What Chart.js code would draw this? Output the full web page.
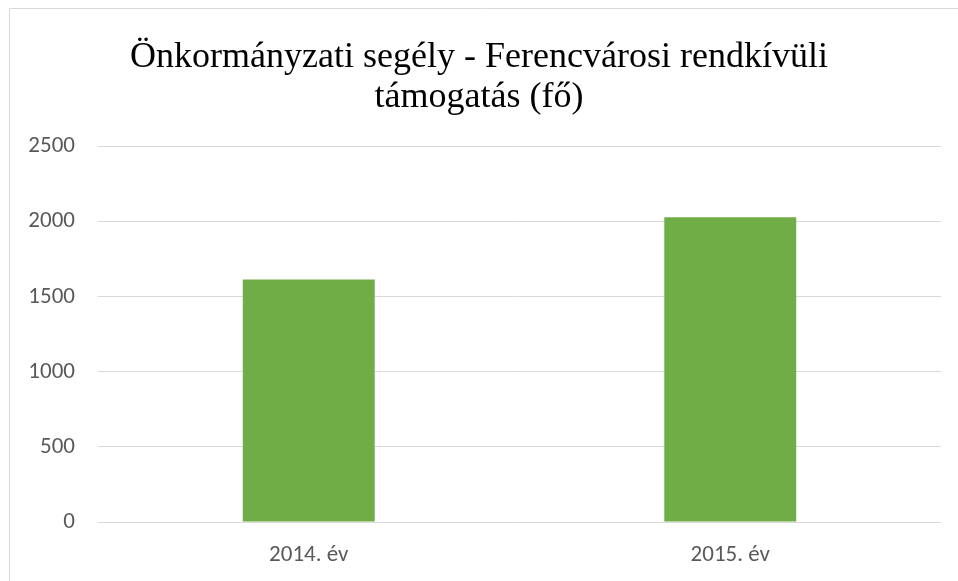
<!DOCTYPE html>
<html>
<head>
<meta charset="utf-8">
<script src="https://cdn.jsdelivr.net/npm/chart.js@4"></script>
<style>
  html, body { margin: 0; padding: 0; background: #fff; }
  #c { display: block; }
</style>
</head>
<body>
<canvas id="c" width="958" height="581"></canvas>
<script>
const categories = ["2014. év", "2015. év"];
const values = [1615, 2030];
const titleLines = ["Önkormányzati segély - Ferencvárosi rendkívüli", "támogatás (fő)"];
const yMin = 0, yMax = 2500, yStep = 500;

const frame = {
  id: 'frame',
  beforeDraw(chart) {
    const ctx = chart.ctx;
    ctx.save();
    ctx.fillStyle = '#ffffff';
    ctx.fillRect(0, 0, chart.width, chart.height);
    ctx.strokeStyle = '#d9d9d9';
    ctx.lineWidth = 1;
    ctx.beginPath();
    ctx.moveTo(9.5, chart.height);
    ctx.lineTo(9.5, 8.5);
    ctx.lineTo(chart.width, 8.5);
    ctx.stroke();
    ctx.restore();
  }
};

const tickFont = { family: 'Carlito, "Open Sans", sans-serif', size: 23 };

new Chart(document.getElementById('c'), {
  type: 'bar',
  data: {
    labels: categories,
    datasets: [{
      data: values,
      backgroundColor: '#70ad47',
      borderWidth: 0,
      categoryPercentage: 1,
      barPercentage: 0.313
    }]
  },
  options: {
    responsive: false,
    animation: false,
    devicePixelRatio: 1,
    layout: { padding: { left: 17, right: 17, top: 0, bottom: 0 } },
    plugins: {
      legend: { display: false },
      tooltip: { enabled: false },
      title: {
        display: true,
        text: titleLines,
        color: '#000000',
        font: { family: '"Liberation Serif", "Times New Roman", serif', size: 36, weight: 'normal', lineHeight: 1.1 },
        padding: { top: 38, bottom: 29.4 }
      }
    },
    scales: {
      x: {
        grid: { display: false, drawTicks: false },
        border: { display: false },
        ticks: { color: '#595959', font: tickFont, padding: 19 },
        afterFit(scale) { scale.height = 59; }
      },
      y: {
        min: yMin,
        max: yMax,
        grid: { color: '#d9d9d9', lineWidth: 1, drawTicks: false },
        border: { display: false },
        ticks: {
          stepSize: yStep, color: '#595959', font: tickFont, padding: 23,
          callback: (v) => String(v)
        },
        afterFit(scale) { scale.width = 81; }
      }
    }
  },
  plugins: [frame]
});
</script>
</body>
</html>
